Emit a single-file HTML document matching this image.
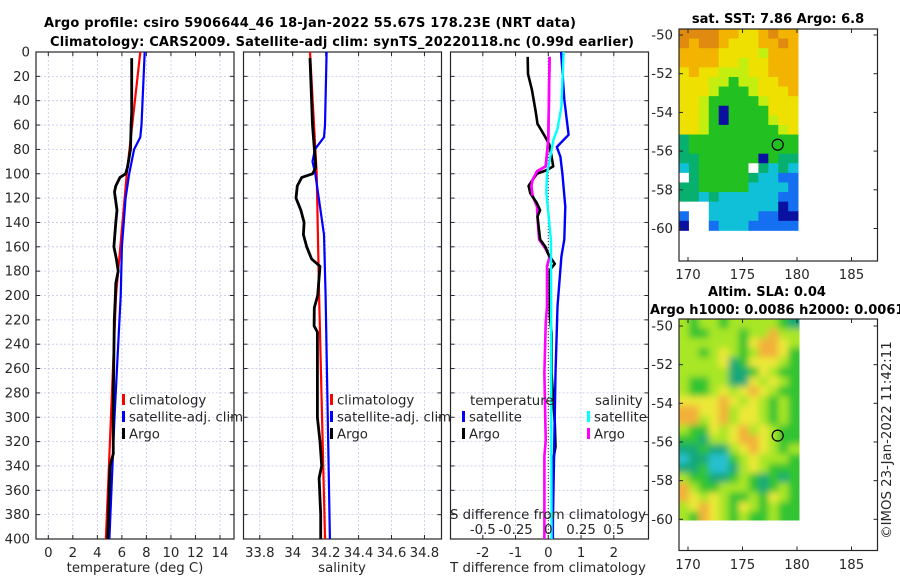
<!DOCTYPE html>
<html><head><meta charset="utf-8"><style>
html,body{margin:0;padding:0;background:#fff;}
svg{display:block;font-family:"DejaVu Sans","Liberation Sans",sans-serif;}
.tk{font-size:13.3px;fill:#262626;}
.ttl{font-size:13px;font-weight:bold;fill:#000;}
.grid{stroke:#c4c8ec;stroke-width:0.8;stroke-dasharray:2,2;}
.ax{fill:none;stroke:#262626;stroke-width:1.2;}
</style></head><body>
<svg id="fig" width="900" height="580" viewBox="0 0 900 580">
<defs>
<filter id="blur" x="-5%" y="-5%" width="110%" height="110%"><feGaussianBlur stdDeviation="3.5"/></filter>
<clipPath id="clip2"><rect x="679" y="319" width="120.5" height="201.5"/></clipPath>
</defs>
<text class="ttl" x="310" y="27" text-anchor="middle" textLength="532">Argo profile: csiro 5906644_46 18-Jan-2022 55.67S 178.23E (NRT data)</text>
<text class="ttl" x="342" y="46" text-anchor="middle" textLength="584">Climatology: CARS2009. Satellite-adj clim: synTS_20220118.nc (0.99d earlier)</text>
<g id="g1"></g>
<g id="g2"></g>
<g id="g3"></g>
<g id="m1"></g>
<g id="m2"></g>
<text class="tk" transform="translate(891,440) rotate(-90)" text-anchor="middle">©IMOS 23-Jan-2022 11:42:11</text>
</svg>
<script>
// ---- data ----
const depthTicks=[0,20,40,60,80,100,120,140,160,180,200,220,240,260,280,300,320,340,360,380,400];
const tempTicks=[0,2,4,6,8,10,12,14];
const salTicks=[33.8,34,34.2,34.4,34.6,34.8];
const dTTicks=[-2,-1,0,1,2];
const dSTicks=[-0.5,-0.25,0,0.25,0.5];
const climTD=[0,100,200,400];
const climT=[7.5,6.4,5.52,4.7];
const satTD=[0,60,70,80,100,120,160,200,300,400];
const satT=[7.86,7.6,7.5,7.0,6.6,6.3,6.0,5.9,5.4,4.98];
const argoTD=[5,50,60,80,95,100,103,110,115,130,140,160,170,180,190,200,220,300,330,340,400];
const argoT=[6.8,6.8,6.75,6.7,6.45,6.3,5.85,5.5,5.4,5.6,5.5,5.35,5.55,5.7,5.5,5.47,5.38,5.28,5.3,5.03,4.84];
const climSD=[0,100,200,400];
const climS=[34.105,34.146,34.16,34.196];
const satSD=[0,60,70,80,90,100,150,200,400];
const satS=[34.206,34.196,34.19,34.135,34.12,34.137,34.19,34.2,34.226];
const argoSD=[5,60,95,100,103,110,120,130,140,150,160,170,176,185,200,210,225,230,300,320,340,350,380,400];
const argoS=[34.105,34.12,34.14,34.12,34.055,34.028,34.02,34.05,34.069,34.065,34.085,34.115,34.166,34.16,34.152,34.131,34.13,34.15,34.15,34.166,34.176,34.16,34.17,34.17];
const dSatTD=[0,39,68,78,86,100,127,154,168,209,264,387,400];
const dSatT=[0.39,0.49,0.62,0.26,0.37,0.43,0.52,0.49,0.4,0.28,0.22,0.14,0.14];
const dArgoTD=[4,18,31,50,59,70,76,86,94,97,100,110,116,124,130,135,154,160,166,174,179,187,203,217,231,264,305,324,335,387,400];
const dArgoT=[-0.63,-0.62,-0.5,-0.38,-0.33,-0.09,0.03,0.1,0.15,-0.05,-0.35,-0.6,-0.55,-0.35,-0.25,-0.33,-0.25,-0.09,0,0.2,0.05,0.05,0.05,0.05,0.1,0.1,0.2,0.22,0.15,0.12,0.12];
const dSatSD=[0,45,63,72,86,100,115,132,154,209,264,400];
const dSatS=[0.117,0.1,0.07,0.04,0.015,-0.01,-0.015,0.0,0.02,0.022,0.022,0.025];
const dArgoSD=[4,72,83,94,98,105,110,118,127,140,154,162,168,176,187,209,223,264,319,332,387,400];
const dArgoS=[0.01,0,-0.01,-0.02,-0.086,-0.12,-0.13,-0.12,-0.086,-0.08,-0.07,-0.02,0.01,-0.01,-0.01,-0.01,-0.02,-0.03,-0.02,-0.03,-0.03,-0.03];
const lonTicks=[170,175,180,185];
const latTicks=[-50,-52,-54,-56,-58,-60];
const argoLon=178.23, argoLat=-55.67;
const sstGrid=["OOOOooYYoOoo","OoOOoYYYooOo","ooooYYYYyooo","ooooYYyYYooo","YoYYyyyYYooo","YYYyyGyyYYoo","YYYyGGGyYYYo","YYyGGGGGyYYY","YYyGBGGGGYYY","YYyGBGGGGyYY","YYyGGGGGGGyY","gGGGGGGGGGGG","gGGGGGGGGGGG","ggGGGGGGBGgg","cgGGGGGwgcgc","wgGGGGGgccbb","ggGGGGGccccb","ggcgccccccbb","wwwcccccccBb","bwwcccccbbBB","Bwwbcccbbbbb"];
const slaGrid=["lGllGlllllGt","lGGlllGlloll","llllllGYooYl","llGlYlGlooYG","llllYtGYYYlG","lllllttGYlGG","lGGllttYlYlG","lGGlYlYoYlGG","YYYYoYlYlGlG","ooYYolYYlGlG","oolYolYYlGlG","lGGYlYolYlGG","GGtllYooYlGG","ttGttlYoYlGl","cttccGlYlllG","ttGcctlYlGGG","lGGttGlGtGtG","olGGlllGtGlG","oYlYlGGlGYlG","lYoYlGYlGlGG","lGoYlGlGGlGG"];
const sstCol={O:"#e08a10",o:"#f2b400",Y:"#eee000",y:"#c4ee10",G:"#22c020",g:"#08b070",c:"#10c0d8",b:"#1470f0",B:"#0a10a0",w:"#ffffff"};
const slaCol={G:"#30c430",l:"#a8e628",Y:"#ece838",o:"#f2b03a",t:"#18a878",c:"#28c0d0"};

// ---- helpers ----
const NS="http://www.w3.org/2000/svg";
function mk(parent,tag,attrs){const e=document.createElementNS(NS,tag);for(const k in attrs)e.setAttribute(k,attrs[k]);parent.appendChild(e);return e;}
const Y0=52,Y1=539;
const yD=d=>Y0+(Y1-Y0)*d/400;

function panel(g,x0,x1,xs,ticks,labels,gridTicks){
  for(const d of depthTicks){const l=mk(g,'line',{x1:x0,x2:x1,y1:yD(d),y2:yD(d),class:'grid'});
  
  }
  for(const t of gridTicks){const l=mk(g,'line',{x1:xs(t),x2:xs(t),y1:Y0,y2:Y1,class:'grid'});
  
  }
  const r=mk(g,'rect',{x:x0,y:Y0,width:x1-x0,height:Y1-Y0,class:'ax'});
  
  
  for(const d of depthTicks){mk(g,'line',{x1:x0,x2:x0+4,y1:yD(d),y2:yD(d),stroke:'#262626'});mk(g,'line',{x1:x1-4,x2:x1,y1:yD(d),y2:yD(d),stroke:'#262626'});}
  ticks.forEach((t,i)=>{mk(g,'line',{x1:xs(t),x2:xs(t),y1:Y1,y2:Y1-4,stroke:'#262626'});mk(g,'line',{x1:xs(t),x2:xs(t),y1:Y0,y2:Y0+4,stroke:'#262626'});
    if(labels){const tx=mk(g,'text',{x:xs(t),y:Y1+18,class:'tk','text-anchor':'middle'});tx.textContent=labels[i];
    
    }});
}
function line(g,xs,xv,dv,color,w,name){
  const pts=xv.map((v,i)=>xs(v).toFixed(1)+','+yD(dv[i]).toFixed(1)).join(' ');
  const p=mk(g,'polyline',{points:pts,fill:'none',stroke:color,'stroke-width':w,'stroke-linejoin':'round'});
  
  
}
function txt(g,x,y,s,cls,anchor,name){const t=mk(g,'text',{x:x,y:y,class:cls,'text-anchor':anchor||'start'});t.textContent=s;
  
  return t;}
function legend(g,x,y,color,label){mk(g,'rect',{x:x,y:y-6,width:3,height:11,fill:color});
  txt(g,x+7,y+4.5,label,'tk','start','legend-entry');}

// ---- panel 1 temperature ----
const g1=document.getElementById('g1');
const xT=v=>48.3+v*(220-48.3)/14;
panel(g1,36,234,xT,tempTicks,tempTicks.map(String),tempTicks);
depthTicks.forEach(d=>txt(g1,30,yD(d)+4.5,String(d),'tk','end','y-tick-label'));
line(g1,xT,climT,climTD,'#ff0000',2.2,'climatology-line');
line(g1,xT,satT,satTD,'#0000ff',2.2,'satellite-clim-line');
line(g1,xT,argoT,argoTD,'#000000',2.8,'argo-temperature-line');
txt(g1,135,572,'temperature (deg C)','tk','middle','x-axis-title');
legend(g1,122,400,'#ff0000','climatology');legend(g1,122,417,'#0000ff','satellite-adj. clim');legend(g1,122,434,'#000000','Argo');

// ---- panel 2 salinity ----
const g2=document.getElementById('g2');
const xS=v=>292.7+(v-34)*164.7;
panel(g2,243.5,441.5,xS,salTicks,['33.8','34','34.2','34.4','34.6','34.8'],salTicks);
line(g2,xS,climS,climSD,'#ff0000',2.2,'climatology-line');
line(g2,xS,satS,satSD,'#0000ff',2.2,'satellite-clim-line');
line(g2,xS,argoS,argoSD,'#000000',2.8,'argo-salinity-line');
txt(g2,342,572,'salinity','tk','middle','x-axis-title');
legend(g2,330,400,'#ff0000','climatology');legend(g2,330,417,'#0000ff','satellite-adj. clim');legend(g2,330,434,'#000000','Argo');

// ---- panel 3 differences ----
const g3=document.getElementById('g3');
const xDT=v=>548.3+v*32.75;
const xDS=v=>548.3+v*131;
panel(g3,450.5,648.5,xDT,dTTicks,['-2','-1','0','1','2'],dTTicks);
const zl=mk(g3,'line',{x1:548.3,x2:548.3,y1:Y0,y2:Y1,stroke:'#333','stroke-width':1,'stroke-dasharray':'1,2'});


line(g3,xDS,dArgoS,dArgoSD,'#ff00ff',2.6,'argo-salinity-diff-line');
line(g3,xDT,dArgoT,dArgoTD,'#000000',2.6,'argo-temperature-diff-line');
line(g3,xDT,dSatT,dSatTD,'#0000ff',2.4,'satellite-temperature-diff-line');
line(g3,xDS,dSatS,dSatSD,'#00ffff',2.4,'satellite-salinity-diff-line');
line(g3,xDS,dArgoS.slice(0,8),dArgoSD.slice(0,8),'#ff00ff',2.6,'argo-salinity-diff-line-top');
txt(g3,470,405,'temperature','tk','start','legend-title-temperature');
txt(g3,595,405,'salinity','tk','start','legend-title-salinity');
legend(g3,462,417,'#0000ff','satellite');legend(g3,462,434,'#000000','Argo');
legend(g3,587,417,'#00ffff','satellite');legend(g3,587,434,'#ff00ff','Argo');
txt(g3,548,519,'S difference from climatology','tk','middle','s-axis-title');
dSTicks.forEach((t,i)=>txt(g3,xDS(t),534,['-0.5','-0.25','0','0.25','0.5'][i],'tk','middle','s-tick-label'));
txt(g3,548,572,'T difference from climatology','tk','middle','x-axis-title');

// ---- maps ----
function map(g,top,bottom,latTop,lat60,grid,cols,labelY,smooth){
  const fx0=679,fx1=877.5;
  const xL=l=>688+(l-170)*10.9;
  const yL=l=>latTop+(l+50)*(latTop-lat60)/10;
  const imgX0=fx0,imgX1=xL(180.1),imgY0=top,imgY1=yL(-60.1);
  const nr=grid.length,nc=grid[0].length,cw=(imgX1-imgX0)/nc,ch=(imgY1-imgY0)/nr;
  let host=g;
  if(smooth){const cg=mk(g,'g',{'clip-path':'url(#clip2)'});host=mk(cg,'g',{filter:'url(#blur)'});}
  grid.forEach((row,r)=>{for(let c=0;c<nc;c++){
    let x=imgX0+c*cw,y=imgY0+r*ch,w=cw+0.4,h=ch+0.4;
    if(smooth){if(c==0){x-=8;w+=8;} if(c==nc-1)w+=8; if(r==0){y-=8;h+=8;} if(r==nr-1)h+=8;}
    const cell=mk(host,'rect',{x:x.toFixed(2),y:y.toFixed(2),width:w.toFixed(2),height:h.toFixed(2),fill:cols[row[c]]});
    
    }});
  const fr=mk(g,'rect',{x:fx0,y:top,width:fx1-fx0,height:bottom-top,class:'ax'});
  
  
  lonTicks.forEach(l=>{mk(g,'line',{x1:xL(l),x2:xL(l),y1:bottom,y2:bottom-4,stroke:'#262626'});mk(g,'line',{x1:xL(l),x2:xL(l),y1:top,y2:top+4,stroke:'#262626'});
    txt(g,xL(l),labelY,String(l),'tk','middle','lon-tick-label');});
  latTicks.forEach(l=>{mk(g,'line',{x1:fx0,x2:fx0+4,y1:yL(l),y2:yL(l),stroke:'#262626'});mk(g,'line',{x1:fx1-4,x2:fx1,y1:yL(l),y2:yL(l),stroke:'#262626'});
    txt(g,673,yL(l)+4.5,String(l),'tk','end','lat-tick-label');});
  const c=mk(g,'circle',{cx:xL(argoLon),cy:yL(argoLat),r:5.5,fill:'none',stroke:'#000','stroke-width':1.2});
  
  
}
const m1=document.getElementById('m1');
map(m1,29,261,35,228.5,sstGrid,sstCol,279,false);
txt(m1,778,23,'sat. SST: 7.86 Argo: 6.8','ttl','middle','sst-map-title');
const m2=document.getElementById('m2');
map(m2,319,550.5,326,519.3,slaGrid,slaCol,569,true);
txt(m2,767,296,'Altim. SLA: 0.04','ttl','middle','sla-map-title');
txt(m2,650,314,'Argo h1000: 0.0086 h2000: 0.0061','ttl','start','sla-map-subtitle');
</script>
</body></html>
